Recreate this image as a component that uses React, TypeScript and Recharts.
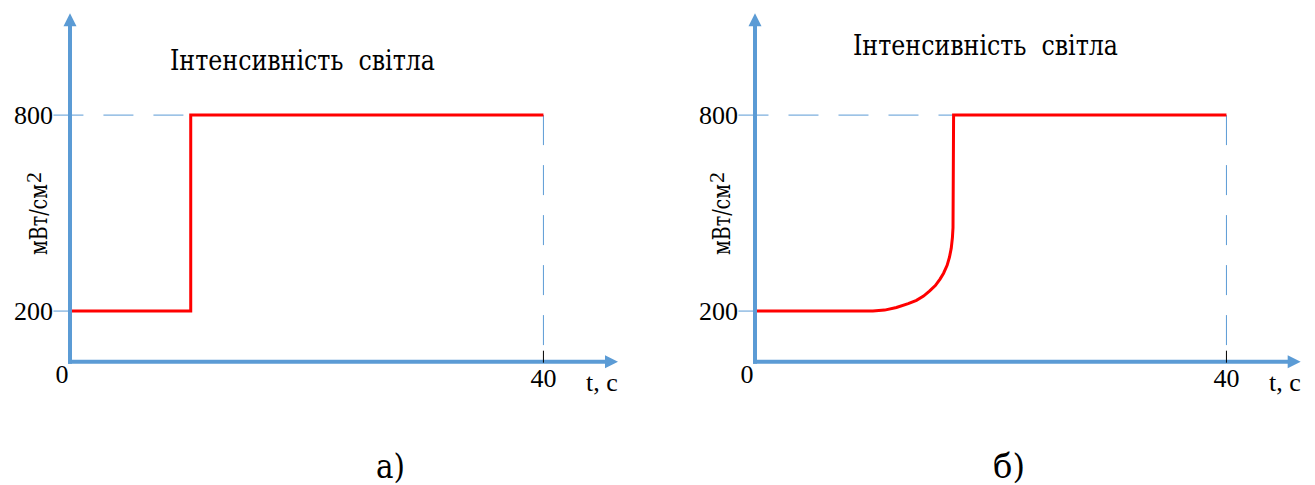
import { LineChart, Line, XAxis, YAxis, ReferenceLine } from 'recharts';

const SERIF = "'Liberation Serif', 'Times New Roman', serif";
// Cyrillic text falls back to DejaVu Serif, squeezed to the Times-like width
const CYR = "'DejaVu Serif', 'Liberation Serif', serif";
const AXIS = '#5b9bd5';
const RED = '#ff0000';

const TITLE = 'Інтенсивність  світла';
const UNIT = 'мВт/см';
const UNIT_POW = '2';
const X_NAME = 't, c';
const CAPTIONS = ['а)', 'б)'];

const X_TICKS = [0, 40];
const Y_TICKS = [200, 800];
const X_END = 46.3;
const Y_MIN = 45;
const Y_MAX = 1112;
const T_LAST = 40;
const I_HIGH = 800;
const I_LOW = 200;

// а) instant switch from low to high intensity
const T_A = [0, 10.2, 10.2, 40];
const I_A = [200, 200, 800, 800];

// б) gradual rise, then switch to the high level
const T_B = [0, 10, 11, 12, 13, 13.7, 14.3, 14.8, 15.3, 15.7, 16, 16.3, 16.5, 16.65, 16.75, 16.8, 16.85, 40];
const I_B = [200, 200, 203, 211, 223, 233, 246, 261, 278, 298, 316, 340, 365, 392, 425, 455, 800, 800];

const CHART_W = 660;
const CHART_H = 410;
const PLOT_LEFT = 70;
const PLOT_TOP = 13.2;
const PLOT_BOTTOM = 361.7;

const txt = { fontFamily: SERIF, fill: '#000' };
const cyr = { fontFamily: CYR, fill: '#000' };

const axisArrow = (p: any) => {
  const { x1, y1, x2, y2 } = p;
  const dx = x2 - x1;
  const dy = y2 - y1;
  const len = Math.hypot(dx, dy) || 1;
  const ux = dx / len;
  const uy = dy / len;
  const head = 13;
  const half = 6.5;
  const bx = x2 - ux * head;
  const by = y2 - uy * head;
  return (
    <g>
      <line x1={x1} y1={y1} x2={bx} y2={by} stroke={AXIS} strokeWidth={4} strokeLinecap="square" />
      <polygon
        points={`${x2},${y2} ${bx - uy * half},${by + ux * half} ${bx + uy * half},${by - ux * half}`}
        fill={AXIS}
      />
    </g>
  );
};

const renderXTick = (p: any) => {
  const { x, y, payload } = p;
  if (payload.value === 0) {
    return (
      <text x={x - 8} y={y + 21} textAnchor="middle" fontSize={26} style={txt}>
        0
      </text>
    );
  }
  return (
    <g>
      <line x1={x} x2={x} y1={y - 11} y2={y + 1} stroke="#000" strokeWidth={1} />
      <text x={x} y={y + 25} textAnchor="middle" fontSize={26} style={txt}>
        {payload.value}
      </text>
    </g>
  );
};

const renderYTick = (p: any) => {
  const { y, payload } = p;
  return (
    <text x={PLOT_LEFT - 17} y={y + 9} textAnchor="end" fontSize={26} style={txt}>
      {payload.value}
    </text>
  );
};

interface PanelProps {
  t: number[];
  v: number[];
  left: number;
  plotW: number;
}

function Panel({ t, v, left, plotW }: PanelProps) {
  const data = t.map((x, i) => ({ t: x, v: v[i] }));
  return (
    <div style={{ position: 'absolute', left, top: 0 }}>
      <LineChart
        width={CHART_W}
        height={CHART_H}
        data={data}
        margin={{ top: PLOT_TOP, left: 0, right: CHART_W - PLOT_LEFT - plotW, bottom: 0 }}
      >
        <XAxis
          type="number"
          dataKey="t"
          domain={[0, X_END]}
          ticks={X_TICKS}
          interval={0}
          height={CHART_H - PLOT_BOTTOM}
          axisLine={false}
          tickLine={false}
          tickSize={0}
          tickMargin={0}
          tick={renderXTick}
        />
        <YAxis
          type="number"
          domain={[Y_MIN, Y_MAX]}
          ticks={Y_TICKS}
          interval={0}
          width={PLOT_LEFT}
          axisLine={false}
          tickLine={false}
          tickSize={0}
          tickMargin={0}
          tick={renderYTick}
        />
        <ReferenceLine
          segment={[{ x: -1.4, y: I_HIGH }, { x: T_LAST, y: I_HIGH }]}
          stroke={AXIS}
          strokeWidth={1}
          strokeDasharray="30 20"
          ifOverflow="visible"
        />
        <ReferenceLine
          segment={[{ x: -1.4, y: I_LOW }, { x: 0, y: I_LOW }]}
          stroke={AXIS}
          strokeWidth={1}
          ifOverflow="visible"
        />
        <ReferenceLine
          segment={[{ x: T_LAST, y: I_HIGH }, { x: T_LAST, y: Y_MIN }]}
          stroke={AXIS}
          strokeWidth={1}
          strokeDasharray="30 20"
          ifOverflow="visible"
        />
        <Line
          type="linear"
          dataKey="v"
          stroke={RED}
          strokeWidth={3}
          dot={false}
          activeDot={false}
          isAnimationActive={false}
        />
        <ReferenceLine segment={[{ x: 0, y: Y_MIN }, { x: 0, y: Y_MAX }]} ifOverflow="visible" shape={axisArrow} />
        <ReferenceLine segment={[{ x: 0, y: Y_MIN }, { x: X_END, y: Y_MIN }]} ifOverflow="visible" shape={axisArrow} />
      </LineChart>
    </div>
  );
}

function Labels({ dx, titleY, caption, captionX, captionW }: { dx: number; titleY: number; caption: string; captionX: number; captionW: number }) {
  return (
    <g>
      <text
        x={170 + dx}
        y={titleY}
        fontSize={27}
        textLength={265}
        lengthAdjust="spacingAndGlyphs"
        style={{ ...cyr, whiteSpace: 'pre' }}
      >
        {TITLE}
      </text>
      <g transform={`translate(${47 + dx},255) rotate(-90)`}>
        <text x={0} y={0} fontSize={25} textLength={71} lengthAdjust="spacingAndGlyphs" style={cyr}>
          {UNIT}
        </text>
        <text x={72} y={-6} fontSize={22} style={txt}>
          {UNIT_POW}
        </text>
      </g>
      <text x={586 + dx} y={391} fontSize={26} style={txt}>
        {X_NAME}
      </text>
      <text
        x={captionX}
        y={478}
        fontSize={33}
        textLength={captionW}
        lengthAdjust="spacingAndGlyphs"
        style={cyr}
      >
        {caption}
      </text>
    </g>
  );
}

export default function App() {
  return (
    <div style={{ position: 'absolute', left: 0, top: 0, width: 1315, height: 485, background: '#fff' }}>
      <Panel t={T_A} v={I_A} left={0} plotW={548} />
      <Panel t={T_B} v={I_B} left={685} plotW={545.7} />
      <svg width={1315} height={485} style={{ position: 'absolute', left: 0, top: 0, pointerEvents: 'none' }}>
        <Labels dx={0} titleY={70} caption={CAPTIONS[0]} captionX={376} captionW={29} />
        <Labels dx={683} titleY={55} caption={CAPTIONS[1]} captionX={993} captionW={32} />
      </svg>
    </div>
  );
}
